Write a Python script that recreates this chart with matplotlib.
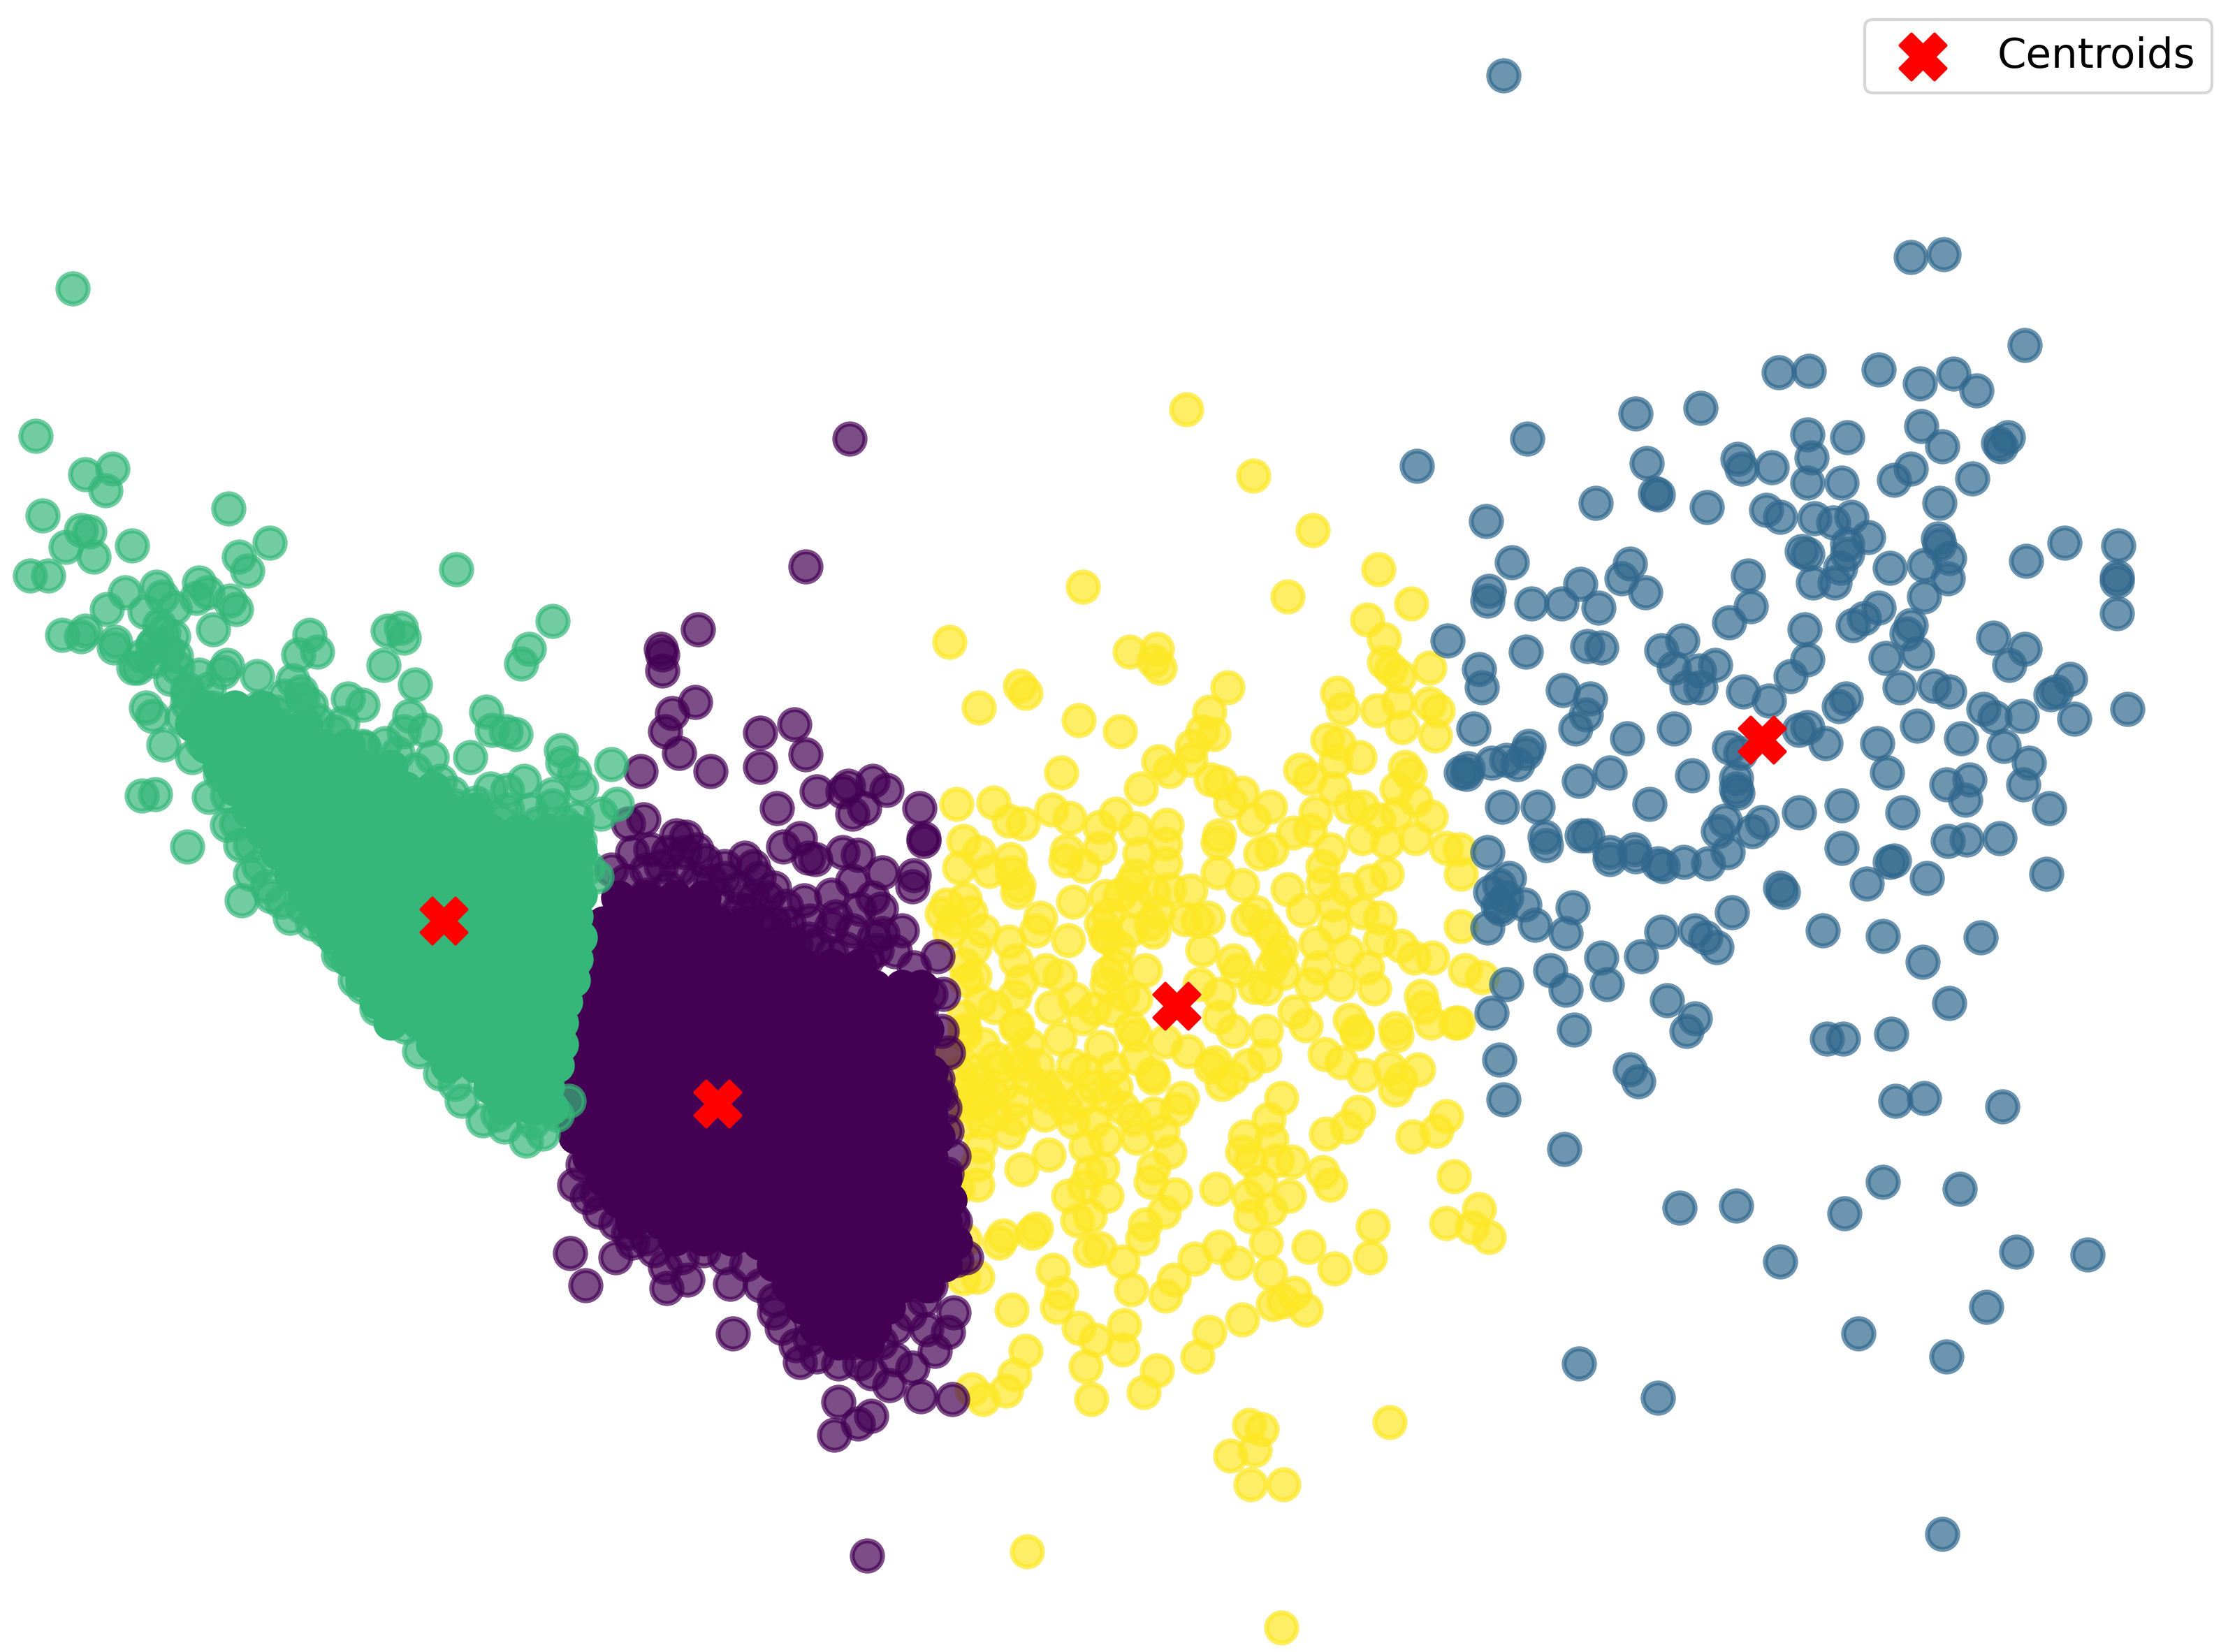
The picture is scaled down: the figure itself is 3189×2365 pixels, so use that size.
import matplotlib
matplotlib.use("Agg")
import matplotlib.pyplot as plt

# values, x then y (y grows downward)
centroids_x = [312, 505, 828, 1240]
centroids_y = [648, 777, 708, 521]

blue_pts = [
    (1058,53),(1345,181),(1368,179),(1425,243),(1252,262),(1273,261),(1322,260),(1351,270),(1375,263),(1391,275),
    (1151,291),(1197,287),(1075,309),(997,328),(1272,306),(1300,308),(1352,300),(1367,314),(1408,314),(1413,308),
    (1406,312),(1159,326),(1223,323),(1226,330),(1247,329),(1275,322),(1272,340),(1296,340),(1333,338),(1345,330),
    (1388,337),(1165,347),(1167,348),(1123,354),(1201,357),(1243,359),(1253,364),(1046,367),(1277,365),(1303,364),
    (1290,368),(1365,354),(1315,378),(1364,379),(1365,383),(1268,388),(1272,390),(1300,390),(1300,383),(1453,382),
    (1491,384),(1064,396),(1147,397),(1141,407),(1112,411),(1158,417),(1048,416),(1047,423),(1078,425),(1099,425),
    (1125,428),(1230,405),(1276,410),(1295,400),(1291,410),(1330,400),(1354,398),(1372,393),(1371,407),(1426,395),
    (1490,406),(1490,409),(1490,432),(1232,427),(1217,438),(1270,443),(1304,440),(1312,435),(1322,428),(1345,440),
    (1354,420),(1342,446),(1019,451),(1074,459),(1117,455),(1127,456),(1169,458),(1184,451),(1178,470),(1207,468),
    (1196,472),(1272,464),(1260,476),(1327,463),(1349,460),(1403,449),(1425,457),(1414,468),(1041,471),(1043,484),
    (1100,486),(1119,492),(1116,503),(1109,513),(1187,484),(1197,484),(1227,487),(1245,493),(1299,492),(1294,497),
    (1337,484),(1361,483),(1372,487),(1457,478),(1447,487),(1443,489),(1497,499),(1460,506),(1423,504),(1404,505),
    (1396,499),(1037,513),(1145,520),(1178,513),(1217,526),(1225,530),(1266,514),(1272,512),(1285,523),(1321,523),
    (1349,511),(1380,520),(1410,525),(1428,537),(1076,525),(1074,530),(1068,538),(1060,535),(1050,537),(1028,544),
    (1032,545),(1033,541),(1133,544),(1111,550),(1191,546),(1222,548),(1222,555),(1223,558),(1328,544),(1386,549),
    (1370,552),(1424,552),(1383,563),(1057,568),(1082,568),(1161,566),(1296,567),(1266,572),(1339,572),(1442,569),
    (1087,589),(1088,595),(1117,588),(1113,588),(1150,598),(1133,600),(1133,605),(1151,603),(1167,608),(1170,610),
    (1185,607),(1202,608),(1209,585),(1214,578),(1240,579),(1216,600),(1233,585),(1296,597),(1333,606),(1330,607),
    (1371,592),(1384,591),(1407,590),(1047,600),(1062,618),(1049,628),(1060,632),(1054,638),(1047,653),(1056,640),
    (1073,637),(1080,651),(1102,657),(1107,639),(1253,625),(1255,628),(1314,622),(1356,618),(1440,615),(1219,642),
    (1169,656),(1193,655),(1200,660),(1208,667),(1283,655),(1325,659),(1394,660),(1127,674),(1155,673),(1091,683),
    (1102,697),(1131,693),(1060,693),(1353,677),(1173,704),(1193,717),(1187,726),(1108,725),(1050,713),(1286,731),
    (1297,731),(1331,728),(1372,706),(1055,746),(1147,753),(1153,761),(1058,774),(1334,775),(1354,773),(1409,779),
    (1101,809),(1325,832),(1379,837),(1182,850),(1222,849),(1298,854),(1253,888),(1419,881),(1469,883),(1398,920),
    (1308,939),(1370,955),(1111,960),(1167,984),(1367,1080),(1055,623),
]

yellow_pts = [
    (835,288),(882,335),(924,373),(762,413),(906,420),(970,401),(993,425),(962,436),(974,450),(668,452),
    (795,459),(814,457),(812,465),(816,470),(718,483),(722,488),(689,498),(759,507),(788,515),(747,544),
    (864,484),(851,501),(846,515),(854,517),(839,525),(838,535),(815,536),(823,543),(803,555),(852,549),
    (859,551),(874,558),(866,565),(894,568),(882,577),(673,566),(699,565),(710,578),(720,580),(740,570),
    (753,576),(774,582),(785,573),(821,581),(799,583),(678,592),(689,600),(711,605),(675,611),(696,613),
    (712,614),(717,623),(716,628),(751,599),(750,606),(774,597),(763,610),(802,601),(820,594),(820,608),
    (799,616),(858,588),(857,593),(857,614),(874,623),(887,601),(895,598),(910,586),(922,584),(926,572),
    (915,542),(922,548),(939,555),(934,521),(942,523),(940,536),(957,533),(941,488),(945,499),(969,500),
    (984,494),(987,512),(1006,495),(1012,500),(1010,518),(1006,470),(974,466),(979,471),(985,476),(989,540),
    (992,545),(983,555),(996,563),(1007,575),(983,573),(959,568),(950,568),(970,577),(959,590),(976,593),
    (996,590),(1018,597),(1027,598),(1028,615),(936,598),(931,610),(931,622),(976,615),(964,620),(948,626),
    (906,626),(917,641),(1028,652),(971,646),(938,637),(939,652),(959,642),(986,666),(971,662),(995,674),
    (1008,674),(1031,683),(1043,688),(926,664),(948,670),(928,681),(962,681),(943,693),(967,696),(923,693),
    (911,712),(919,722),(950,718),(955,726),(1000,701),(1002,709),(982,724),(1007,720),(1024,720),(891,696),
    (883,695),(903,685),(899,673),(895,681),(884,642),(878,647),(890,652),(895,659),(902,669),(868,676),
    (871,683),(846,669),(850,646),(843,648),(834,647),(838,627),(823,626),(812,628),(755,635),(778,631),
    (788,630),(796,622),(799,634),(780,644),(815,642),(810,650),(812,656),(780,660),(778,659),(787,667),
    (752,662),(732,646),(729,655),(692,655),(710,663),(666,637),(679,633),(663,643),(671,648),(683,642),
    (668,656),(686,667),(679,679),(686,687),(715,676),(736,683),(746,687),(719,691),(714,701),(700,709),
    (780,685),(779,693),(806,683),(844,693),(858,700),(858,716),(868,726),(891,726),(756,703),(740,709),
    (762,717),(716,722),(678,716),(679,728),(783,711),(796,724),(799,703),(670,741),(679,725),(692,735),
    (715,723),(724,735),(746,731),(775,737),(799,729),(820,733),(836,740),(890,743),(878,750),(855,748),
    (860,763),(867,759),(852,751),(932,742),(944,748),(955,728),(960,757),(978,752),(998,753),(986,760),
    (982,767),(983,729),(1026,720),(902,773),(893,788),(876,800),(895,802),(874,811),(880,817),(899,817),
    (909,818),(956,783),(948,793),(933,798),(1018,786),(1011,796),(994,800),(931,825),(936,834),(1023,828),
    (887,832),(907,842),(878,842),(894,851),(880,856),(856,837),(966,863),(921,878),(891,875),(964,885),
    (939,893),(894,896),(911,910),(903,916),(896,918),(919,922),(874,929),(1018,861),(1041,851),(1036,864),
    (1048,871),(858,878),(871,889),(841,886),(851,938),(843,955),(814,965),(805,980),(826,901),(820,912),
    (796,908),(790,888),(774,879),(767,880),(804,872),(806,862),(819,853),(827,841),(810,832),(812,822),
    (823,811),(818,796),(800,801),(798,788),(812,784),(828,781),(832,773),(812,759),(811,756),(778,802),
    (764,807),(755,790),(779,773),(783,752),(764,754),(746,764),(739,772),(724,760),(715,788),(710,797),
    (738,813),(719,823),(690,807),(688,820),(688,834),(674,836),(692,790),(698,770),(679,778),(703,752),
    (686,754),(776,822),(767,825),(779,842),(763,835),(752,842),(758,859),(767,856),(729,865),(726,868),
    (706,870),(703,875),(679,873),(688,899),(678,900),(712,922),(741,894),(747,910),(744,920),(759,935),
    (771,943),(791,933),(790,950),(764,962),(768,985),(722,951),(714,968),(708,979),(684,978),(692,985),
    (879,1003),(888,1006),(883,1021),(866,1025),(978,1001),(880,1045),(903,1045),(723,1092),(902,1146),
    (700,745),(715,745),(730,750),(690,760),(705,765),(685,775),(700,785),(755,750),(770,765),(760,775),
    (750,780),(770,790),(680,790),(715,775),(735,785),(680,690),(690,705),(676,755),(680,765),(692,775),
    (775,650),(785,680),(795,655),(790,700),(770,710),(800,745),(785,765),(790,780),(720,750),(735,765),
]

purple_pts = [
    (598,309),(567,399),(491,443),(465,457),(466,461),(466,472),(489,494),(473,502),(468,515),(478,530),
    (451,543),(500,543),(535,516),(559,510),(567,531),(535,540),(547,569),(575,557),(593,557),(597,553),
    (614,550),(624,556),(608,569),(600,573),(647,569),(650,590),(650,592),(643,616),(642,624),(621,614),
    (614,632),(563,590),(551,596),(569,604),(574,605),(593,600),(604,602),(453,577),(442,580),(483,589),
    (458,598),(524,604),(534,618),(496,606),(510,618),(527,641),(545,649),(553,638),(566,634),(588,645),
    (569,661),(585,671),(621,657),(617,669),(643,681),(660,673),(664,700),(663,726),(667,741),(662,771),
    (666,796),(671,814),(666,826),(670,857),(673,887),(401,882),(433,885),(412,905),(468,892),(469,907),
    (484,901),(514,904),(516,939),(404,834),(413,843),(422,853),(433,861),(545,924),(560,947),(563,959),
    (671,924),(652,936),(667,938),(658,951),(630,957),(642,963),(613,967),(626,975),(648,983),(670,985),
    (590,987),(613,997),(604,1002),(587,1010),(610,1095),(476,588),(470,600),(482,600),(445,600),(455,612),
    (470,625),(490,620),(505,630),(520,625),(540,632),(480,640),(500,645),(515,650),(455,630),(440,620),
    (540,655),(555,650),(570,648),(585,652),(600,655),(615,660),(630,670),(575,665),(595,668),(610,675),
    (560,665),(530,632),(510,610),(490,598),(530,610),(545,625),(585,630),(605,640),(620,640),(600,620),
    (635,655),(430,612),(465,610),(478,612),(500,620),(520,640),(535,648),(550,660),(445,875),(460,880),
    (480,885),(495,880),(510,885),(525,890),(535,905),(545,915),(550,935),(575,955),(590,960),(605,960),
    (620,945),(640,925),(655,905),(665,890),(680,885),(410,820),(420,840),(442,868),(455,872),(650,915),
    (630,935),(600,945),(570,942),(660,875),(672,860),(668,845),(655,700),(648,712),(660,760),(665,780),
]

green_pts = [
    (51,203),(25,307),(60,334),(79,330),(74,345),(30,363),(57,373),(63,374),(46,385),(66,392),
    (93,384),(161,358),(190,382),(168,392),(174,402),(321,401),(21,405),(34,405),(88,417),(110,413),
    (114,420),(140,410),(146,417),(138,421),(162,423),(166,429),(75,429),(102,431),(123,428),(44,447),
    (57,448),(60,444),(81,452),(80,456),(122,448),(108,453),(150,443),(218,447),(210,461),(223,459),
    (273,444),(282,442),(284,449),(270,468),(389,437),(372,457),(367,467),(292,482),(206,479),(212,487),
    (219,496),(181,476),(160,468),(125,470),(97,470),(103,498),(107,504),(132,489),(115,524),(245,492),
    (255,496),(241,509),(288,504),(299,514),(284,515),(271,523),(304,533),(256,526),(342,501),(346,514),
    (356,515),(363,517),(331,533),(395,528),(396,537),(404,544),(409,554),(430,538),(434,566),(423,573),
    (369,550),(345,555),(357,556),(318,558),(389,559),(389,567),(357,570),(373,570),(406,576),(340,584),
    (100,560),(109,559),(132,596),(160,581),(176,595),(176,615),(170,634),(191,631),(204,646),(414,611),
    (420,617),(238,672),(250,690),(265,710),(285,723),(310,756),(320,763),(340,789),(355,793),(370,803),
    (382,798),(400,775),(107,454),(108,465),(94,470),(132,485),(157,473),(132,495),(147,485),(163,501),
    (182,498),(194,501),(213,492),(223,507),(201,517),(226,526),(245,533),(267,545),(292,542),(301,558),
    (320,567),(332,573),(345,592),(364,586),(389,586),(408,592),(138,511),(135,533),(147,561),(166,580),
    (169,595),(188,624),(213,639),(229,655),(115,445),(118,458),(124,462),(112,440),(100,462),(120,478),
    (140,475),(150,498),(128,505),(142,522),(155,545),(160,560),(182,610),(198,635),(220,650),(240,670),
    (255,695),(275,715),(295,740),(325,775),(350,785),(375,790),(392,785),(200,490),(235,515),(255,525),
    (280,530),(310,550),(335,565),(352,578),(378,580),(398,580),
]

# solid parts of the two dense clusters, row by row (y: x values)
green_core = {
    498: [145,165,185],
    510: [135,155,175,195,215],
    525: [145,165,185,205,225,245],
    540: [155,175,195,215,235,255,275],
    555: [165,185,205,225,245,265,285,305],
    570: [175,195,215,235,255,275,295,315,335],
    585: [185,205,225,245,265,285,305,325,345,365,385,405],
    600: [195,215,235,255,275,295,315,335,355,375,395,408],
    615: [205,225,245,265,285,305,325,345,365,385,405],
    630: [215,235,255,275,295,315,335,355,375,395,408],
    645: [225,245,265,285,305,325,345,365,385,405],
    660: [235,255,275,295,315,335,355,375,395,408],
    675: [245,265,285,305,325,345,365,385,405],
    690: [255,275,295,315,335,355,375,395,403],
    705: [265,285,305,325,345,365,385,398],
    720: [275,295,315,335,355,375,395],
    735: [305,325,345,365,385,395],
    750: [315,335,355,375,392],
    765: [345,365,385],
    780: [355,375,388],
}

purple_core = {
    632: [435,455,475,495],
    650: [425,445,465,485,505,525],
    665: [422,435,455,475,495,515,535,555],
    680: [418,425,445,465,485,505,525,545,565,585,605],
    695: [412,435,455,475,495,515,535,555,575,595,615,635,648],
    710: [405,425,445,465,485,505,525,545,565,585,605,625,645],
    725: [402,415,435,455,475,495,515,535,555,575,595,615,635,652],
    740: [405,425,445,465,485,505,525,545,565,585,605,625,645],
    755: [402,415,435,455,475,495,515,535,555,575,595,615,635,655],
    770: [405,425,445,465,485,505,525,545,565,585,605,625,645,658],
    785: [400,415,435,455,475,495,515,535,555,575,595,615,635,655],
    800: [405,425,445,465,485,505,525,545,565,585,605,625,645,660],
    815: [415,435,455,475,495,515,535,555,575,595,615,635,655],
    830: [425,445,465,485,505,525,545,565,585,605,625,645,665],
    845: [435,455,475,495,515,535,555,575,595,615,635,655,668],
    860: [445,465,485,505,525,545,565,585,605,625,645,665],
    872: [475,495,515],
    875: [535,555,575,595,615,635,655,672],
    890: [545,565,585,605,625,645,665],
    905: [555,575,595,615,635,652],
    920: [565,585,605,625],
    935: [575,595,615],
    945: [590,610],
}

viridis = plt.get_cmap('viridis')
colors = {'purple': viridis(0.0), 'blue': viridis(1/3), 'green': viridis(2/3), 'yellow': viridis(1.0)}


def draw_points(ax, pts, color, alpha=0.7):
    xs = [p[0] for p in pts]
    ys = [p[1] for p in pts]
    ax.scatter(xs, ys, s=108, color=color, alpha=alpha, linewidths=1.7)


def draw_core(ax, rows, color):
    pts = [(x, y) for y, row in rows.items() for x in row]
    draw_points(ax, pts, color, alpha=1.0)


fig = plt.figure(figsize=(3189 / 300, 2365 / 300))
ax = fig.add_axes([0, 0, 1, 1])

draw_points(ax, yellow_pts, colors['yellow'])
draw_points(ax, blue_pts, colors['blue'])
draw_core(ax, purple_core, colors['purple'])
draw_points(ax, purple_pts, colors['purple'])
draw_core(ax, green_core, colors['green'])
draw_points(ax, green_pts, colors['green'])
ax.scatter(centroids_x, centroids_y, s=250, c='red', marker='X', label='Centroids')

ax.set_xlim(0, 1568)
ax.set_ylim(1163, 0)
ax.axis('off')
ax.legend(loc='upper right', bbox_to_anchor=(3166 / 3189, 1 - 28 / 2365), borderaxespad=0, fontsize=14.25)

fig.savefig('out.png', dpi=300)
